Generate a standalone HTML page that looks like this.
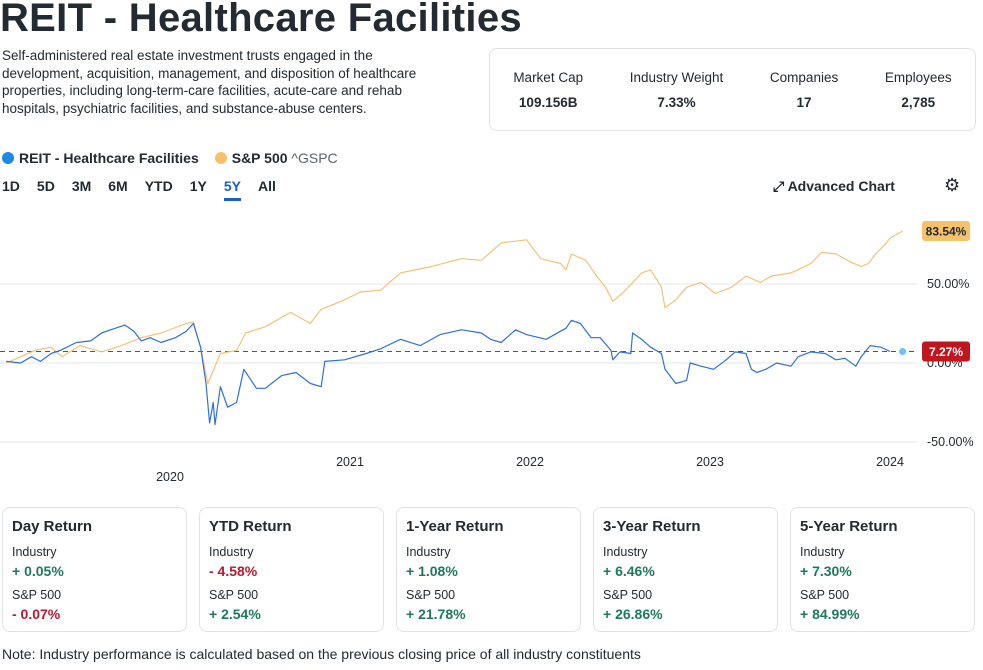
<!DOCTYPE html>
<html><head><meta charset="utf-8">
<style>
*{box-sizing:border-box;margin:0;padding:0}
body{width:983px;height:670px;background:#fff;font-family:"Liberation Sans",sans-serif;color:#232a31;position:relative;overflow:hidden}
.abs{position:absolute}
h1{position:absolute;left:0;top:-4px;font-size:40px;font-weight:bold;letter-spacing:0.3px;color:#232a31}
.desc{left:2px;top:47px;width:445px;font-size:13.5px;line-height:17.5px}
.stats{left:489px;top:48px;width:487px;height:83px;border:1px solid #dfe1e3;border-radius:8px;display:flex;justify-content:space-around;align-items:center;text-align:center}
.stats .l{font-size:13.5px;margin-bottom:10px}
.stats .v{font-size:13.5px;font-weight:bold}
.legend{left:2px;top:150px;font-size:14px;font-weight:bold;display:flex;align-items:center}
.dot{width:12px;height:12px;border-radius:6px;display:inline-block;margin-right:5px}
.tabs{left:2px;top:178px;font-size:14px;font-weight:bold;display:flex}
.tabs span{margin-right:17px}
.card{top:507px;width:185px;height:125px;border:1px solid #e0e2e5;border-radius:8px;padding:10px 0 0 9px}
.card .t{font-size:15px;font-weight:bold;margin-bottom:10px}
.card .n{font-size:12.5px;margin-bottom:4px}
.card .p{font-size:14px;font-weight:bold;margin-bottom:9px}
.g{color:#1d7a5e}.r{color:#c0162f}
.note{left:2px;top:646px;font-size:14px}
</style></head><body>
<h1>REIT - Healthcare Facilities</h1>
<div class="abs desc">Self-administered real estate investment trusts engaged in the development, acquisition, management, and disposition of healthcare properties, including long-term-care facilities, acute-care and rehab hospitals, psychiatric facilities, and substance-abuse centers.</div>
<div class="abs stats">
<div><div class="l">Market Cap</div><div class="v">109.156B</div></div>
<div><div class="l">Industry Weight</div><div class="v">7.33%</div></div>
<div><div class="l">Companies</div><div class="v">17</div></div>
<div><div class="l">Employees</div><div class="v">2,785</div></div>
</div>
<div class="abs legend">
<span class="dot" style="background:#1e88e5"></span><span>REIT - Healthcare Facilities</span>
<span class="dot" style="background:#f5c26b;margin-left:16px"></span><span>S&amp;P 500 <span style="font-weight:normal;color:#5b636a">^GSPC</span></span>
</div>
<div class="abs tabs">
<span>1D</span><span>5D</span><span>3M</span><span>6M</span><span>YTD</span><span>1Y</span><span style="color:#1a5fd0;border-bottom:3px solid #1a5fd0;padding-bottom:4px">5Y</span><span>All</span>
</div>
<div class="abs" style="left:773px;top:178px;font-size:14px;font-weight:bold">⤢ Advanced Chart</div>
<div class="abs" style="left:944px;top:175px;font-size:18px">⚙</div>
<svg class="abs" style="left:0;top:0" width="983" height="500" id="chart"></svg>
<div class="abs card" style="left:2px"><div class="t">Day Return</div><div class="n">Industry</div><div class="p g">+ 0.05%</div><div class="n">S&amp;P 500</div><div class="p r">- 0.07%</div></div>
<div class="abs card" style="left:199px"><div class="t">YTD Return</div><div class="n">Industry</div><div class="p r">- 4.58%</div><div class="n">S&amp;P 500</div><div class="p g">+ 2.54%</div></div>
<div class="abs card" style="left:396px"><div class="t">1-Year Return</div><div class="n">Industry</div><div class="p g">+ 1.08%</div><div class="n">S&amp;P 500</div><div class="p g">+ 21.78%</div></div>
<div class="abs card" style="left:593px"><div class="t">3-Year Return</div><div class="n">Industry</div><div class="p g">+ 6.46%</div><div class="n">S&amp;P 500</div><div class="p g">+ 26.86%</div></div>
<div class="abs card" style="left:790px"><div class="t">5-Year Return</div><div class="n">Industry</div><div class="p g">+ 7.30%</div><div class="n">S&amp;P 500</div><div class="p g">+ 84.99%</div></div>
<div class="abs note">Note: Industry performance is calculated based on the previous closing price of all industry constituents</div>
<script>
const spDates=[2019.09,2019.25,2019.34,2019.40,2019.50,2019.62,2019.73,2019.84,2019.95,2020.09,2020.13,2020.17,2020.21,2020.28,2020.37,2020.42,2020.53,2020.67,2020.78,2020.84,2020.95,2021.06,2021.17,2021.28,2021.45,2021.62,2021.73,2021.84,2021.98,2022.06,2022.17,2022.20,2022.23,2022.31,2022.37,2022.42,2022.46,2022.53,2022.62,2022.67,2022.73,2022.75,2022.81,2022.87,2022.95,2023.03,2023.12,2023.20,2023.28,2023.34,2023.45,2023.56,2023.62,2023.70,2023.78,2023.84,2023.88,2023.92,2023.98,2024.00,2024.07];
const spValues=[0,8,10,4,11,7,11,16,19,25,26,10,-13,6,8,19,23,32,25,34,39,45,46,57,61,66,65,76,78,66,63,59,69,65,55,48,39,46,57,59,48,35,40,48,51,44,48,55,51,55,57,63,70,69,64,61,63,69,76,79,83.54];
const indDates=[2019.09,2019.17,2019.23,2019.28,2019.34,2019.39,2019.48,2019.56,2019.62,2019.67,2019.75,2019.80,2019.84,2019.89,2019.95,2020.03,2020.09,2020.13,2020.17,2020.20,2020.22,2020.24,2020.25,2020.28,2020.32,2020.37,2020.41,2020.48,2020.53,2020.62,2020.70,2020.78,2020.84,2020.86,2020.97,2021.09,2021.17,2021.28,2021.39,2021.50,2021.62,2021.73,2021.78,2021.84,2021.92,2021.98,2022.09,2022.20,2022.23,2022.28,2022.34,2022.39,2022.45,2022.46,2022.50,2022.56,2022.57,2022.62,2022.67,2022.73,2022.75,2022.81,2022.87,2022.89,2022.95,2023.02,2023.09,2023.14,2023.20,2023.23,2023.26,2023.31,2023.37,2023.45,2023.49,2023.56,2023.64,2023.70,2023.75,2023.81,2023.84,2023.89,2023.95,2024.00,2024.05,2024.07];
const indValues=[1,0,4,1,6,8,13,14,19,21,24,20,14,16,13,16,20,25,10,-13,-38,-25,-39,-15,-28,-25,-4,-16,-16,-8,-6,-13,-15,1,2,6,9,15,11,18,21,19,15,13,21,18,15,22,27,25,16,16,8,2,7,6,19,15,10,6,-4,-13,-11,0,-2,-4,2,7,6,-4,-6,-4,0,-2,4,7,6,2,3,-2,4,11,10,7.27];
const yTicks=[50,0,-50];
const yTickLabels=["50.00%","0.00%","-50.00%"];
const xTicks=[2020,2021,2022,2023,2024];
const lastInd=7.27, lastSp=83.54;
const NS="http://www.w3.org/2000/svg";
const svg=document.getElementById('chart');
const xS=t=>170+(t-2020)*180;
const yS=v=>363-v*1.58;
function mk(tag,attrs){const e=document.createElementNS(NS,tag);for(const k in attrs)e.setAttribute(k,attrs[k]);svg.appendChild(e);return e;}
yTicks.forEach((v,i)=>{
 const l=mk('line',{x1:0,x2:918,y1:yS(v),y2:yS(v),stroke:'#e6e8ea','stroke-width':1});
 
 
 const t=mk('text',{x:927,y:yS(v)+4,'font-size':12.5,fill:'#232a31','font-family':'Liberation Sans, sans-serif'});
 t.textContent=yTickLabels[i];
 
 
});
xTicks.forEach((yr,i)=>{
 const t=mk('text',{x:xS(yr),y:i==0?481:466,'font-size':12.5,fill:'#232a31','text-anchor':'middle','font-family':'Liberation Sans, sans-serif'});
 t.textContent=yr;
 
 
});
const ref=mk('line',{x1:0,x2:918,y1:yS(lastInd),y2:yS(lastInd),stroke:'#b03030','stroke-width':1,'stroke-dasharray':'5,4'});


function path(ds,vs,col,name){
 const d=ds.map((t,i)=>(i?'L':'M')+xS(t).toFixed(1)+','+yS(vs[i]).toFixed(1)).join('');
 const p=mk('path',{d:d,fill:'none',stroke:col,'stroke-width':1.2,'stroke-linejoin':'round'});
 
 
}
path(spDates,spValues,'#f2c27a','sp500-line');
path(indDates,indValues,'#2f6fde','industry-line');
const dt=mk('circle',{cx:xS(indDates[indDates.length-1]),cy:yS(lastInd),r:3.5,fill:'#6ec1f5'});


function badge(v,bg,fg,name){
 const r=mk('rect',{x:922,y:yS(v)-10,width:48,height:20,rx:3,fill:bg});
 
 
 const t=mk('text',{x:946,y:yS(v)+4.5,'font-size':12,'text-anchor':'middle',fill:fg,'font-weight':'bold','font-family':'Liberation Sans, sans-serif'});
 t.textContent=v.toFixed(2)+'%';
 
 
}
badge(lastSp,'#f5c26b','#232a31','sp500-value-badge');
badge(lastInd,'#c0161e','#fff','industry-value-badge');
</script>
</body></html>
